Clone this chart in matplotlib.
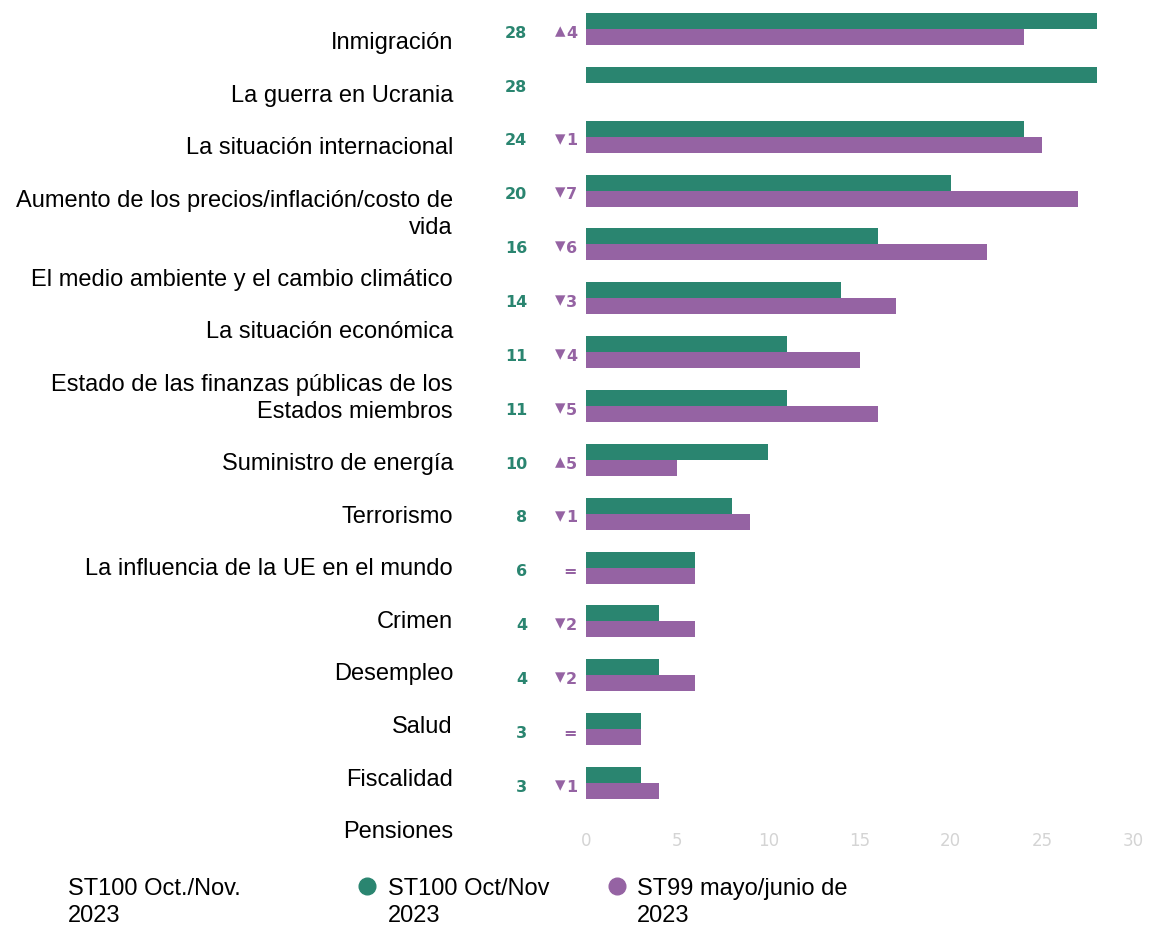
import matplotlib
matplotlib.use("Agg")
import matplotlib.pyplot as plt
import numpy as np
from matplotlib.transforms import blended_transform_factory

categories = [
    "Inmigración",
    "La guerra en Ucrania",
    "La situación internacional",
    "Aumento de los precios/inflación/costo de\nvida",
    "El medio ambiente y el cambio climático",
    "La situación económica",
    "Estado de las finanzas públicas de los\nEstados miembros",
    "Suministro de energía",
    "Terrorismo",
    "La influencia de la UE en el mundo",
    "Crimen",
    "Desempleo",
    "Salud",
    "Fiscalidad",
    "Pensiones",
]
st100 = [28, 28, 24, 20, 16, 14, 11, 11, 10, 8, 6, 4, 4, 3, 3]
st99 = [24, np.nan, 25, 27, 22, 17, 15, 16, 5, 9, 6, 6, 6, 3, 4]
change_sign = ["▴", "", "▾", "▾", "▾", "▾", "▾", "▾", "▴", "▾", "", "▾", "▾", "", "▾"]
change_value = ["4", "", "1", "7", "6", "3", "4", "5", "5", "1", "=", "2", "2", "=", "1"]
xticks = [0, 5, 10, 15, 20, 25, 30]
legend_title = "ST100 Oct./Nov.\n2023"
series_names = ["ST100 Oct/Nov\n2023", "ST99 mayo/junio de\n2023"]

GREEN = "#2a8570"
PURPLE = "#9563a3"

W, H = 1150, 928
fig = plt.figure(figsize=(W / 100, H / 100), dpi=100)
ax = fig.add_axes([586 / W, 1 - 811 / H, (1133 - 586) / W, (811 - 3) / H])

n = len(st100)
y = np.arange(n)
bh = 0.297
ax.barh(y - bh / 2, st100, height=bh, color=GREEN)
ax.barh(y + bh / 2, st99, height=bh, color=PURPLE)
ax.set_ylim(n - 0.5, -0.5)
ax.set_xlim(0, 30)
ax.set_xticks(xticks)
ax.set_xticklabels([str(t) for t in xticks], color="#d4d4d4", fontsize=12,
                   family="DejaVu Sans")
ax.tick_params(axis="x", length=0, pad=15)
ax.set_yticks([])
for s in ax.spines.values():
    s.set_visible(False)

tr = blended_transform_factory(fig.transFigure, ax.transData)
for i in range(n):
    ax.text(527 / W, i + 0.06, str(st100[i]), transform=tr, ha="right", va="center",
            color=GREEN, fontsize=11.5, fontweight="bold", family="DejaVu Sans")
    if change_value[i]:
        ax.text(577 / W, i + 0.06, change_value[i], transform=tr, ha="right", va="center",
                color=PURPLE, fontsize=11.5, fontweight="bold", family="DejaVu Sans")
    if change_sign[i]:
        ax.text(565 / W, i + 0.02, change_sign[i], transform=tr, ha="right", va="center",
                color=PURPLE, fontsize=15, family="DejaVu Sans")

# left label column (flowing layout: each label takes its lines + one blank line)
line = 0
step = 26.3
for lab in categories:
    nl = lab.count("\n") + 1
    ytop_center = 44 + step * line
    fig.text(453 / W, 1 - (ytop_center - 0.45 * step) / H, lab, ha="right", va="top",
             fontsize=17, family=["Liberation Sans", "DejaVu Sans"], color="black",
             linespacing=1.3)
    line += nl + 1

# legend
lfam = ["Liberation Sans", "DejaVu Sans"]
fig.text(68 / W, 1 - 878 / H, legend_title, ha="left", va="top", fontsize=17,
         family=lfam, linespacing=1.3)
for (mx, tx), name, col in zip([(367, 388), (617, 637)], series_names, [GREEN, PURPLE]):
    fig.lines.append(plt.Line2D([mx / W], [1 - 887 / H], marker="o", markersize=12,
                                color=col, transform=fig.transFigure))
    fig.text(tx / W, 1 - 878 / H, name, ha="left", va="top", fontsize=17,
             family=lfam, linespacing=1.3)

fig.savefig("out.png", dpi=100)
